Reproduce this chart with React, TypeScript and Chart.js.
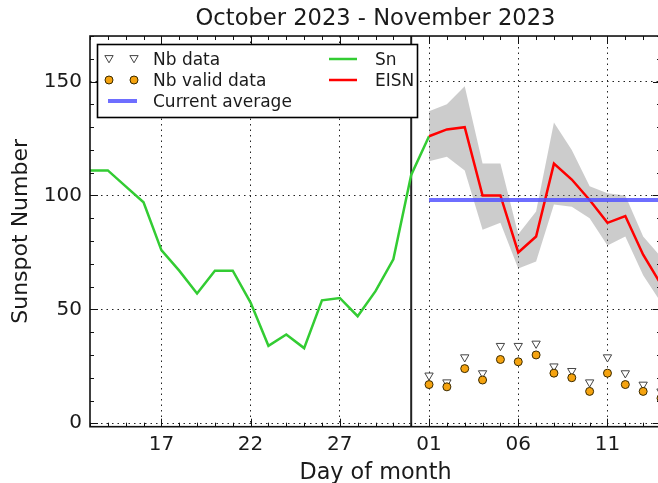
import React, { useEffect, useRef } from 'react';
import { Chart, registerables } from 'chart.js';

Chart.register(...registerables);

// ---------- data ----------
const chartTitle = 'October 2023 - November 2023';
const xAxisTitle = 'Day of month';
const yAxisTitle = 'Sunspot Number';

const snDates = [
  '2023-10-13', '2023-10-14', '2023-10-15', '2023-10-16', '2023-10-17', '2023-10-18', '2023-10-19',
  '2023-10-20', '2023-10-21', '2023-10-22', '2023-10-23', '2023-10-24', '2023-10-25', '2023-10-26',
  '2023-10-27', '2023-10-28', '2023-10-29', '2023-10-30', '2023-10-31', '2023-11-01',
];
const snValues = [111, 111, 104, 97, 76, 67, 57, 67, 67, 53, 34, 39, 33, 54, 55, 47, 58, 72, 109, 126];

const eisnDates = [
  '2023-11-01', '2023-11-02', '2023-11-03', '2023-11-04', '2023-11-05', '2023-11-06', '2023-11-07',
  '2023-11-08', '2023-11-09', '2023-11-10', '2023-11-11', '2023-11-12', '2023-11-13', '2023-11-14',
];
const eisnValues = [126, 129, 130, 100, 100, 75, 82, 114, 107, 98, 88, 91, 74, 61];
const eisnUpper = [137, 140, 148, 114, 114, 83, 93, 132, 120, 104, 101, 100, 82, 73];
const eisnLower = [115, 117, 111, 85, 88, 68, 71, 96, 95, 90, 78, 82, 65, 53];
const nbData = [21, 18, 29, 22, 34, 34, 35, 25, 23, 18, 29, 22, 17, 14];
const nbValidData = [17, 16, 24, 19, 28, 27, 30, 22, 20, 14, 22, 17, 14, 11];
const currentAverage = 98;

const xStartDate = '2023-10-13';
const xEndDate = '2023-11-14';
const monthBoundaryDate = '2023-10-31';
const xTickDates = ['2023-10-17', '2023-10-22', '2023-10-27', '2023-11-01', '2023-11-06', '2023-11-11'];
const xTickLabels = ['17', '22', '27', '01', '06', '11'];
const yTickValues = [0, 50, 100, 150];
const yMin = -1.5;
const yMax = 170;

const legendLabels = ['Nb data', 'Nb valid data', 'Current average', 'Sn', 'EISN'];

// ---------- helpers ----------
const DAY = 86400000;
const dayX = (s: string) => (Date.parse(s) - Date.parse(monthBoundaryDate)) / DAY;
const pts = (dates: string[], vals: number[]) => dates.map((d, i) => ({ x: dayX(d), y: vals[i] }));

const FONT = 'DejaVu Sans';
const TEXT = '#1a1a1a';
const GREEN = '#33cc33';
const RED = '#ff0000';
const BLUE = 'rgba(85,85,255,0.85)';
const BAND = 'rgba(128,128,128,0.4)';
const ORANGE = '#f5a30f';
const TRI_EDGE = '#444444';
const DOT_EDGE = '#3a2a00';

function drawDownTriangle(ctx: CanvasRenderingContext2D, x: number, y: number, r: number) {
  ctx.beginPath();
  ctx.moveTo(x - r * 0.866, y - r * 0.5);
  ctx.lineTo(x + r * 0.866, y - r * 0.5);
  ctx.lineTo(x, y + r);
  ctx.closePath();
  ctx.fillStyle = '#ffffff';
  ctx.fill();
  ctx.strokeStyle = TRI_EDGE;
  ctx.lineWidth = 1;
  ctx.stroke();
}

function drawCircle(ctx: CanvasRenderingContext2D, x: number, y: number, r: number) {
  ctx.beginPath();
  ctx.arc(x, y, r, 0, Math.PI * 2);
  ctx.fillStyle = ORANGE;
  ctx.fill();
  ctx.strokeStyle = DOT_EDGE;
  ctx.lineWidth = 1;
  ctx.stroke();
}

const framePlugin = {
  id: 'frameTicks',
  afterDatasetsDraw(chart: any) {
    const { ctx, chartArea: a, scales } = chart;
    const xs = scales.x;
    const ys = scales.y;
    const majorX = xTickDates.map(dayX);
    ctx.save();
    ctx.strokeStyle = '#111';
    ctx.lineWidth = 1;
    const seg = (x1: number, y1: number, x2: number, y2: number) => {
      ctx.beginPath();
      ctx.moveTo(x1, y1);
      ctx.lineTo(x2, y2);
      ctx.stroke();
    };
    for (let d = Math.ceil(xs.min); d <= xs.max; d++) {
      const px = Math.round(xs.getPixelForValue(d)) + 0.5;
      const len = majorX.includes(d) ? 8 : 4;
      seg(px, a.top, px, a.top + len);
      seg(px, a.bottom, px, a.bottom - len);
    }
    for (let v = 0; v <= ys.max; v += 10) {
      const py = Math.round(ys.getPixelForValue(v)) + 0.5;
      const len = v % 50 === 0 ? 8 : 4;
      seg(a.left, py, a.left + len, py);
      seg(a.right, py, a.right - len, py);
    }
    ctx.lineWidth = 1.6;
    ctx.strokeRect(a.left, a.top, a.right - a.left, a.bottom - a.top);
    ctx.restore();
  },
};

const legendPlugin = {
  id: 'customLegend',
  afterDraw(chart: any) {
    const { ctx } = chart;
    ctx.save();
    const bx = 97.5, by = 44.5, bw = 320, bh = 73;
    ctx.fillStyle = '#ffffff';
    ctx.fillRect(bx, by, bw, bh);
    ctx.strokeStyle = '#000';
    ctx.lineWidth = 1.6;
    ctx.strokeRect(bx, by, bw, bh);

    const rows = [59, 80, 101];
    // column 1
    drawDownTriangle(ctx, 109, rows[0] - 1, 4.8);
    drawDownTriangle(ctx, 134, rows[0] - 1, 4.8);
    drawCircle(ctx, 109, rows[1], 4);
    drawCircle(ctx, 134, rows[1], 4);
    ctx.strokeStyle = BLUE;
    ctx.lineWidth = 4;
    ctx.beginPath();
    ctx.moveTo(108, rows[2]);
    ctx.lineTo(137, rows[2]);
    ctx.stroke();
    // column 2
    ctx.lineWidth = 2.5;
    ctx.strokeStyle = GREEN;
    ctx.beginPath();
    ctx.moveTo(329, rows[0]);
    ctx.lineTo(357, rows[0]);
    ctx.stroke();
    ctx.strokeStyle = RED;
    ctx.beginPath();
    ctx.moveTo(329, rows[1]);
    ctx.lineTo(357, rows[1]);
    ctx.stroke();

    ctx.fillStyle = TEXT;
    ctx.font = `17px "${FONT}"`;
    ctx.textAlign = 'left';
    ctx.textBaseline = 'alphabetic';
    ctx.fillText(legendLabels[0], 153, rows[0] + 6);
    ctx.fillText(legendLabels[1], 153, rows[1] + 6);
    ctx.fillText(legendLabels[2], 153, rows[2] + 6);
    ctx.fillText(legendLabels[3], 375, rows[0] + 6);
    ctx.fillText(legendLabels[4], 375, rows[1] + 6);
    ctx.restore();
  },
};

export default function App() {
  const ref = useRef<HTMLCanvasElement | null>(null);

  useEffect(() => {
    const canvas = ref.current;
    if (!canvas) return;
    const xMin = dayX(xStartDate);
    const xMax = dayX(xEndDate);
    const xTickVals = xTickDates.map(dayX);
    const boundary = dayX(monthBoundaryDate);

    const chart = new Chart(canvas, {
      type: 'line',
      data: {
        datasets: [
          {
            label: legendLabels[1],
            data: pts(eisnDates, nbValidData),
            showLine: false,
            pointStyle: 'circle',
            pointRadius: 4,
            pointBackgroundColor: ORANGE,
            pointBorderColor: DOT_EDGE,
            pointBorderWidth: 1,
          },
          {
            label: legendLabels[0],
            data: pts(eisnDates, nbData),
            showLine: false,
            pointStyle: 'triangle',
            pointRotation: 180,
            pointRadius: 4.8,
            pointBackgroundColor: '#ffffff',
            pointBorderColor: TRI_EDGE,
            pointBorderWidth: 1,
          },
          {
            label: legendLabels[2],
            data: [
              { x: dayX(eisnDates[0]), y: currentAverage },
              { x: xMax, y: currentAverage },
            ],
            borderColor: BLUE,
            borderWidth: 4,
            pointRadius: 0,
            fill: false,
          },
          {
            label: legendLabels[4],
            data: pts(eisnDates, eisnValues),
            borderColor: RED,
            borderWidth: 2.5,
            pointRadius: 0,
            fill: false,
          },
          {
            label: 'EISN upper',
            data: pts(eisnDates, eisnUpper),
            borderWidth: 0,
            borderColor: 'rgba(0,0,0,0)',
            backgroundColor: BAND,
            pointRadius: 0,
            fill: '+1',
          },
          {
            label: 'EISN lower',
            data: pts(eisnDates, eisnLower),
            borderWidth: 0,
            borderColor: 'rgba(0,0,0,0)',
            pointRadius: 0,
            fill: false,
          },
          {
            label: legendLabels[3],
            data: pts(snDates, snValues),
            borderColor: GREEN,
            borderWidth: 2.5,
            pointRadius: 0,
            fill: false,
          },
          {
            label: 'month boundary',
            data: [
              { x: boundary, y: yMin },
              { x: boundary, y: yMax },
            ],
            borderColor: '#222',
            borderWidth: 2,
            pointRadius: 0,
            fill: false,
          },
        ],
      },
      options: {
        animation: false,
        responsive: false,
        maintainAspectRatio: false,
        devicePixelRatio: 1,
        layout: { padding: { left: 0, right: 19, top: 0, bottom: 0 } },
        elements: { line: { tension: 0 } },
        plugins: {
          legend: { display: false },
          tooltip: { enabled: false },
          title: {
            display: true,
            text: chartTitle,
            fullSize: false,
            color: TEXT,
            font: { family: FONT, size: 22.6, weight: 'normal', lineHeight: 1.2 },
            padding: { top: 5.2, bottom: 3.7 },
          },
        },
        scales: {
          x: {
            type: 'linear',
            min: xMin,
            max: xMax,
            afterBuildTicks: (s: any) => {
              s.ticks = xTickVals.map((v) => ({ value: v }));
            },
            afterFit: (s: any) => {
              s.height = 56.3;
            },
            ticks: {
              autoSkip: false,
              maxRotation: 0,
              padding: 6,
              color: TEXT,
              font: { family: FONT, size: 20 },
              callback: (v: any) => {
                const i = xTickVals.indexOf(Number(v));
                return i >= 0 ? xTickLabels[i] : '';
              },
            },
            grid: { color: '#222', lineWidth: 1, drawTicks: false },
            border: { display: false, dash: [1.5, 4] },
            title: {
              display: true,
              text: xAxisTitle,
              color: TEXT,
              font: { family: FONT, size: 22.3, lineHeight: 1 },
              padding: { top: 0, bottom: -1 },
            },
          },
          y: {
            type: 'linear',
            min: yMin,
            max: yMax,
            afterBuildTicks: (s: any) => {
              s.ticks = yTickValues.map((v) => ({ value: v }));
            },
            afterFit: (s: any) => {
              s.width = 90;
            },
            ticks: {
              padding: 8,
              color: TEXT,
              font: { family: FONT, size: 20 },
              callback: (v: any) => String(v),
            },
            grid: { color: '#222', lineWidth: 1, drawTicks: false },
            border: { display: false, dash: [1.5, 4] },
            title: {
              display: true,
              text: yAxisTitle,
              color: TEXT,
              font: { family: FONT, size: 22, lineHeight: 1.2 },
              padding: { top: 8, bottom: 0 },
            },
          },
        },
      },
      plugins: [framePlugin, legendPlugin],
    } as any);

    return () => chart.destroy();
  }, []);

  return (
    <div
      style={{
        position: 'fixed',
        left: 0,
        top: 0,
        width: 658,
        height: 483,
        overflow: 'hidden',
        background: '#ffffff',
      }}
    >
      <canvas ref={ref} width={680} height={483} style={{ display: 'block', width: 680, height: 483 }} />
    </div>
  );
}
